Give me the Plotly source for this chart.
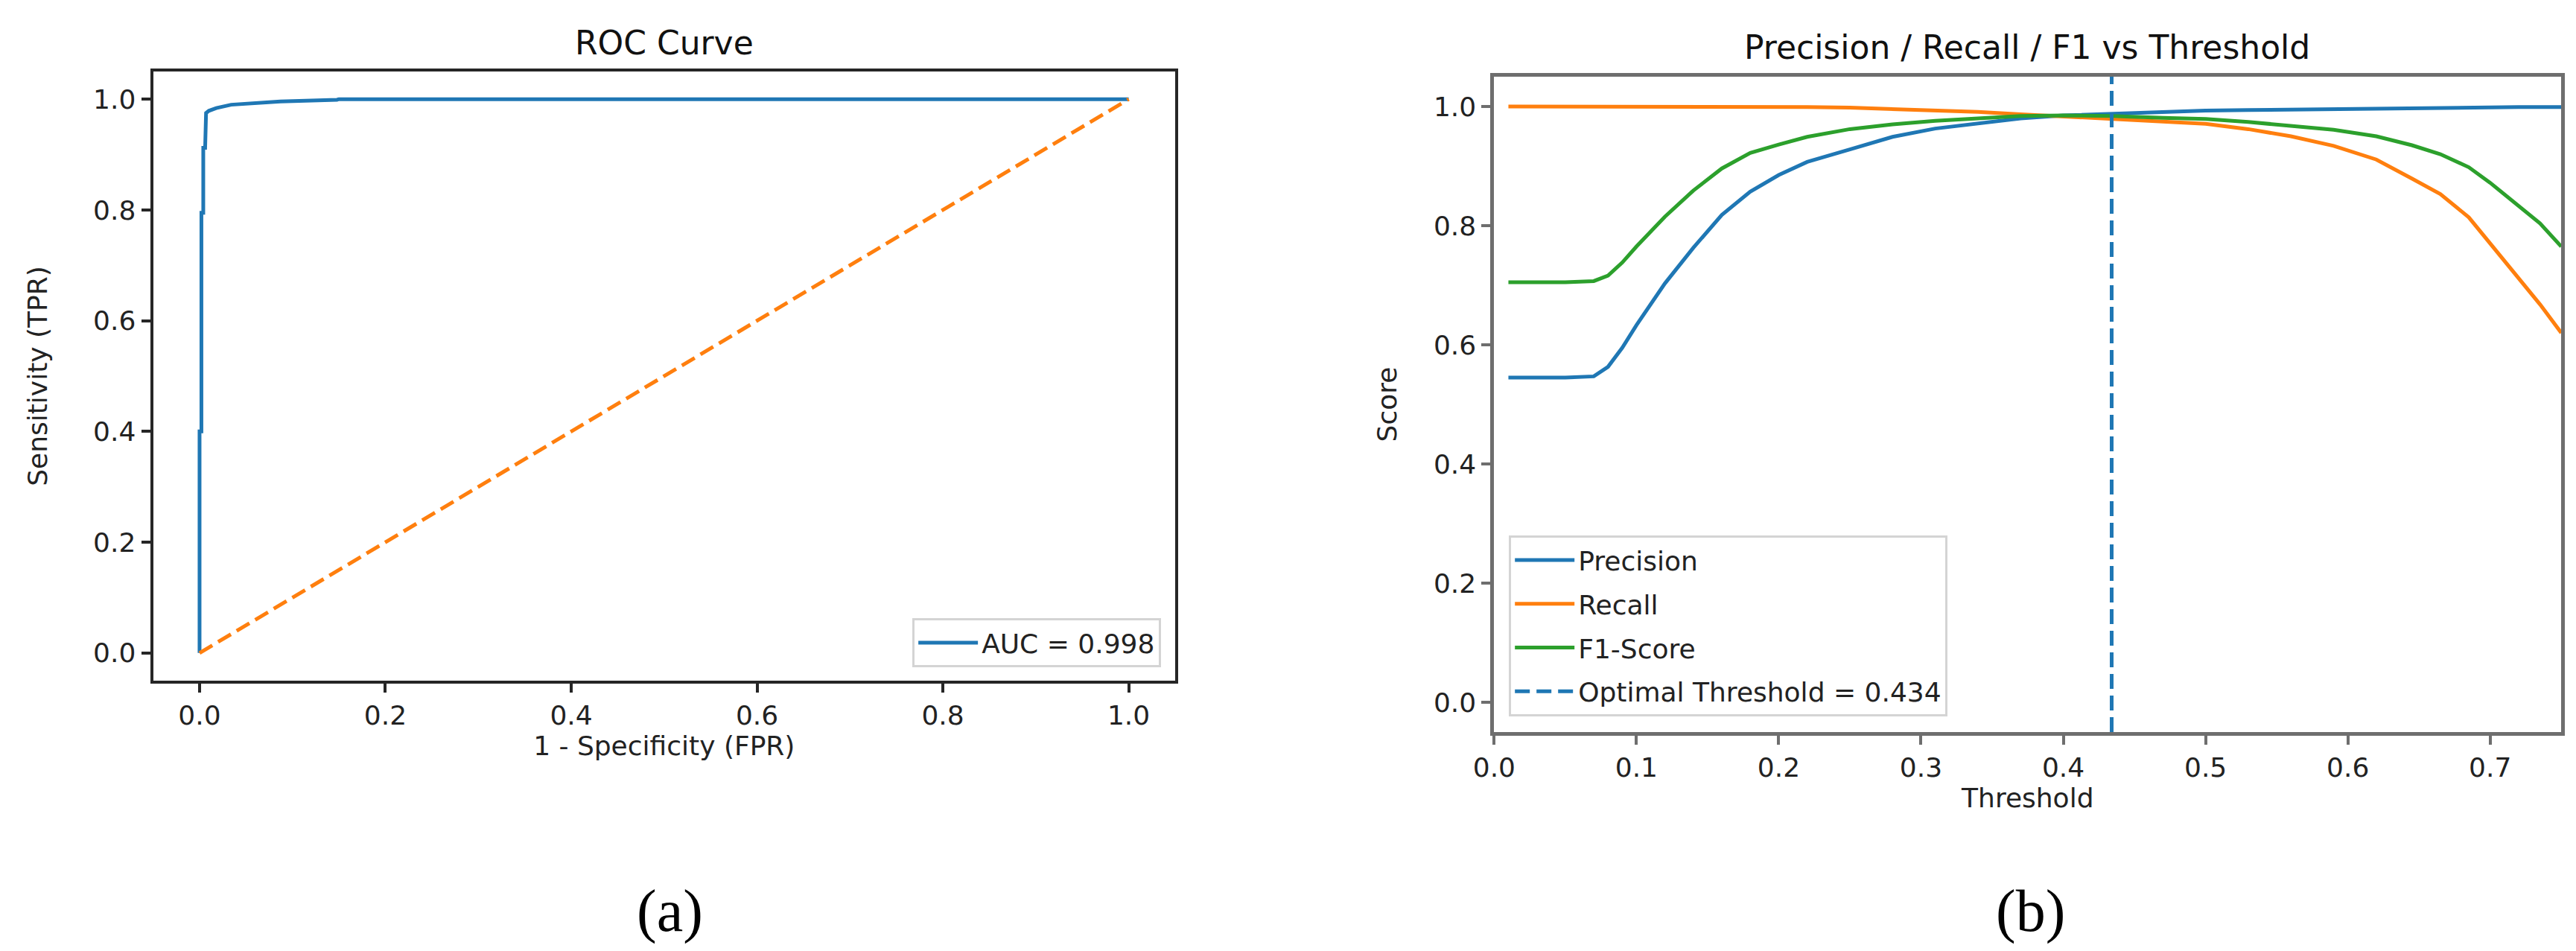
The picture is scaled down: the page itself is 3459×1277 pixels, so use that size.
import plotly.graph_objects as go

# ---------------- data: (a) ROC curve ----------------
roc_fpr = [0.000, 0.000, 0.002, 0.002, 0.004, 0.004, 0.006, 0.006, 0.007, 0.010,
           0.018, 0.034, 0.052, 0.087, 0.148, 0.150, 1.000]
roc_tpr = [0.000, 0.400, 0.400, 0.795, 0.795, 0.912, 0.912, 0.953, 0.975, 0.979,
           0.984, 0.990, 0.992, 0.996, 0.999, 1.000, 1.000]
roc_label = "AUC = 0.998"
chance_x = [0.0, 1.0]
chance_y = [0.0, 1.0]
roc_ticks = [0.0, 0.2, 0.4, 0.6, 0.8, 1.0]

# ---------------- data: (b) metrics vs threshold ----------------
thresholds = [0.01, 0.03, 0.05, 0.07, 0.08, 0.09, 0.10, 0.12, 0.14, 0.16, 0.18, 0.20, 0.22,
              0.25, 0.28, 0.31, 0.34, 0.37, 0.40, 0.434, 0.47, 0.50, 0.53, 0.56, 0.59,
              0.62, 0.645, 0.665, 0.685, 0.70, 0.72, 0.735, 0.75]
precision = [0.545, 0.545, 0.545, 0.547, 0.563, 0.595, 0.633, 0.703, 0.763, 0.818, 0.857, 0.885,
             0.907, 0.928, 0.949, 0.963, 0.971, 0.980, 0.985, 0.988, 0.991, 0.993, 0.994, 0.995,
             0.996, 0.997, 0.998, 0.998, 0.999, 0.999, 0.999, 0.999, 0.999]
recall = [1.000, 1.000, 1.000, 1.000, 1.000, 1.000, 1.000, 1.000, 1.000, 1.000, 1.000, 0.999,
          0.999, 0.998, 0.996, 0.994, 0.991, 0.987, 0.983, 0.979, 0.975, 0.971, 0.962, 0.950,
          0.934, 0.911, 0.879, 0.853, 0.814, 0.770, 0.712, 0.668, 0.620]
f1_score = [0.705, 0.705, 0.705, 0.707, 0.716, 0.738, 0.765, 0.815, 0.859, 0.896, 0.922, 0.936,
            0.949, 0.962, 0.970, 0.976, 0.980, 0.984, 0.985, 0.984, 0.981, 0.979, 0.974, 0.968,
            0.961, 0.950, 0.935, 0.920, 0.898, 0.872, 0.833, 0.804, 0.765]
optimal_threshold = 0.434
series_names = ["Precision", "Recall", "F1-Score"]
opt_label = "Optimal Threshold = 0.434"
thr_ticks = [0.0, 0.1, 0.2, 0.3, 0.4, 0.5, 0.6, 0.7]
score_ticks = [0.0, 0.2, 0.4, 0.6, 0.8, 1.0]
y_range = [-0.05, 1.05]

# ---------------- styling ----------------
W, H = 3459, 1277
BLUE, ORANGE, GREEN = "#1f77b4", "#ff7f0e", "#2ca02c"
FONT = "DejaVu Sans"
TICK_SIZE = 36
TITLE_SIZE = 44
LW = 5
DASH = "20px,9px"
TXT = "#222222"

fig = go.Figure()

# (a) ROC
fig.add_trace(go.Scatter(x=roc_fpr, y=roc_tpr, mode="lines", name=roc_label,
                         line=dict(color=BLUE, width=LW), xaxis="x", yaxis="y",
                         legend="legend"))
fig.add_trace(go.Scatter(x=chance_x, y=chance_y, mode="lines", showlegend=False,
                         line=dict(color=ORANGE, width=LW, dash=DASH),
                         xaxis="x", yaxis="y"))

# (b) thresholds
for i, (name, vals, col) in enumerate(zip(series_names, [precision, recall, f1_score],
                                          [BLUE, ORANGE, GREEN])):
    fig.add_trace(go.Scatter(x=thresholds, y=vals, mode="lines", name=name,
                             line=dict(color=col, width=LW), xaxis="x2", yaxis="y2",
                             legend="legend2", legendgroup="g%d" % i))
fig.add_trace(go.Scatter(x=[optimal_threshold, optimal_threshold], y=y_range, mode="lines",
                         name=opt_label, line=dict(color=BLUE, width=LW, dash=DASH),
                         xaxis="x2", yaxis="y2", legend="legend2", legendgroup="g3"))


def axis_style(color, lw):
    return dict(showline=True, mirror=True, linecolor=color, linewidth=lw,
                ticks="outside", ticklen=12, tickwidth=4, tickcolor=color,
                showgrid=False, zeroline=False,
                tickfont=dict(family=FONT, size=TICK_SIZE, color=TXT))


LEFT_C, RIGHT_C = "#262626", "#6e6e6e"
title_font = dict(family=FONT, size=TICK_SIZE, color=TXT)

fig.update_layout(
    width=W, height=H, autosize=False,
    margin=dict(l=0, r=0, t=0, b=0),
    paper_bgcolor="white", plot_bgcolor="white",
    font=dict(family=FONT, size=TICK_SIZE, color=TXT),
    xaxis=dict(domain=[170 / W, 1554 / W], anchor="y", range=[-0.05, 1.05],
               tickvals=roc_ticks, tickformat=".1f",
               title=dict(text="1 - Specificity (FPR)", standoff=6, font=title_font),
               **axis_style(LEFT_C, 4)),
    yaxis=dict(domain=[1 - 906 / H, 1 - 88 / H], anchor="x", range=y_range,
               tickvals=roc_ticks, tickformat=".1f",
               title=dict(text="Sensitivity (TPR)", standoff=52, font=title_font),
               **axis_style(LEFT_C, 4)),
    xaxis2=dict(domain=[1986 / W, 3431 / W], anchor="y2", range=[0, 0.75],
                tickvals=thr_ticks, tickformat=".1f",
                title=dict(text="Threshold", standoff=9, font=title_font),
                **axis_style(RIGHT_C, 5)),
    yaxis2=dict(domain=[1 - 975 / H, 1 - 95 / H], anchor="x2", range=y_range,
                tickvals=score_ticks, tickformat=".1f",
                title=dict(text="Score", standoff=40, font=title_font),
                **axis_style(RIGHT_C, 5)),
    legend=dict(x=1535 / W, y=1 - 888 / H, xanchor="right", yanchor="bottom",
                bgcolor="rgba(255,255,255,0.85)", bordercolor="#d4d4d4", borderwidth=3,
                itemwidth=80,
                font=dict(family=FONT, size=TICK_SIZE, color=TXT)),
    legend2=dict(x=2006 / W, y=1 - 954 / H, xanchor="left", yanchor="bottom",
                 bgcolor="rgba(255,255,255,0.85)", bordercolor="#d4d4d4", borderwidth=3,
                 itemwidth=80, tracegroupgap=9,
                 font=dict(family=FONT, size=TICK_SIZE, color=TXT)),
    annotations=[
        dict(text="ROC Curve", x=862 / W, y=1 - 49 / H, xref="paper", yref="paper",
             xanchor="center", yanchor="middle", showarrow=False,
             font=dict(family=FONT, size=TITLE_SIZE, color="#111111")),
        dict(text="Precision / Recall / F1 vs Threshold", x=2708 / W, y=1 - 55 / H,
             xref="paper", yref="paper", xanchor="center", yanchor="middle", showarrow=False,
             font=dict(family=FONT, size=TITLE_SIZE, color="#111111")),
        dict(text="(a)", x=870 / W, y=1 - 1215 / H, xref="paper", yref="paper",
             xanchor="center", yanchor="middle", showarrow=False,
             font=dict(family="Liberation Serif", size=80, color="#000000")),
        dict(text="(b)", x=2712 / W, y=1 - 1215 / H, xref="paper", yref="paper",
             xanchor="center", yanchor="middle", showarrow=False,
             font=dict(family="Liberation Serif", size=80, color="#000000")),
    ],
)

fig.write_html("out.html")
